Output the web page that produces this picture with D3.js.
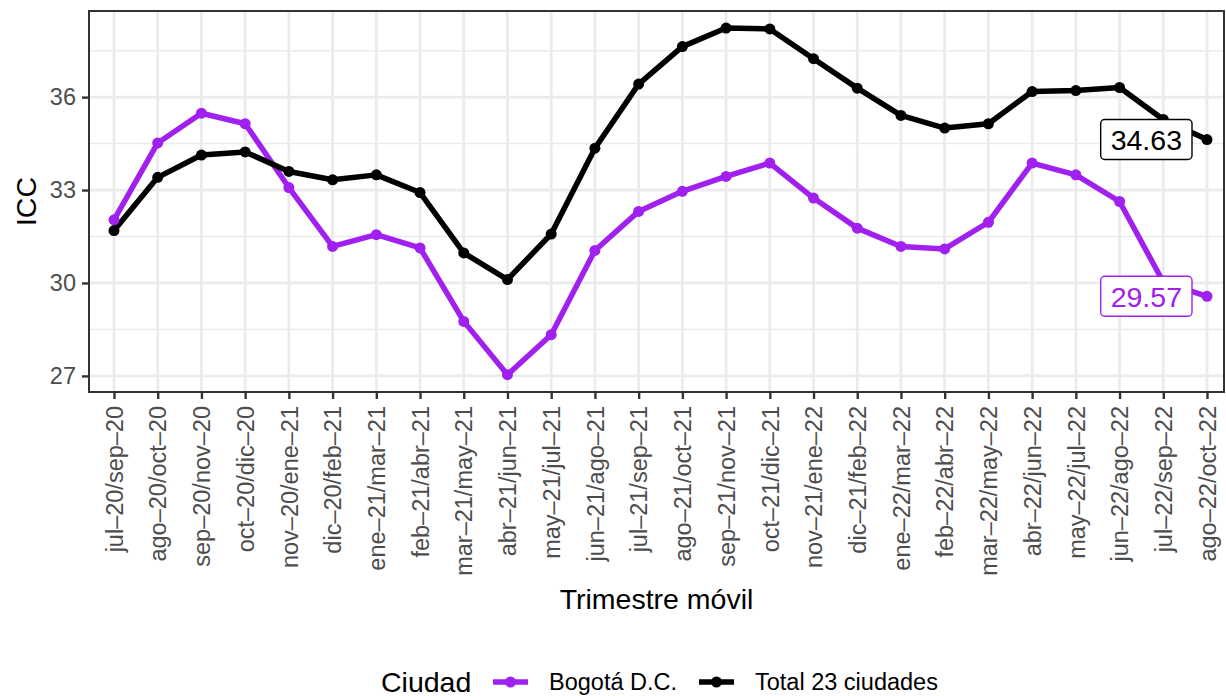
<!DOCTYPE html>
<html>
<head>
<meta charset="utf-8">
<script src="https://cdn.jsdelivr.net/npm/d3@7"></script>
<style>
    body { margin: 0; background: #fff; }
    .chart { width: 1226px; height: 696px; }
    text { font-family: "Liberation Sans", Arial, sans-serif; }
</style>
</head>
<body>
<div class="chart"></div>
<script>

//the moving quarters on the x axis
let trimestres = [
    "jul–20/sep–20", "ago–20/oct–20", "sep–20/nov–20", "oct–20/dic–20", "nov–20/ene–21",
    "dic–20/feb–21", "ene–21/mar–21", "feb–21/abr–21", "mar–21/may–21", "abr–21/jun–21",
    "may–21/jul–21", "jun–21/ago–21", "jul–21/sep–21", "ago–21/oct–21", "sep–21/nov–21",
    "oct–21/dic–21", "nov–21/ene–22", "dic–21/feb–22", "ene–22/mar–22", "feb–22/abr–22",
    "mar–22/may–22", "abr–22/jun–22", "may–22/jul–22", "jun–22/ago–22", "jul–22/sep–22",
    "ago–22/oct–22"
];

let bogota = [
    32.04, 34.52, 35.48, 35.14, 33.08, 31.18, 31.56, 31.13, 28.76, 27.04,
    28.33, 31.05, 32.31, 32.96, 33.44, 33.87, 32.74, 31.77, 31.18, 31.10,
    31.96, 33.87, 33.49, 32.63, 30.03, 29.57
];

let total = [
    31.69, 33.41, 34.13, 34.23, 33.60, 33.33, 33.49, 32.92, 30.97, 30.11,
    31.58, 34.35, 36.42, 37.63, 38.23, 38.20, 37.24, 36.29, 35.41, 35.00,
    35.14, 36.18, 36.21, 36.31, 35.28, 34.63
];

let ciudades = ["Bogotá D.C.", "Total 23 ciudades"];
let colores = ["#A020F0", "#000000"];
let yTicks = [27, 30, 33, 36];
let yMinor = [28.5, 31.5, 34.5, 37.5];

let chart = {};

init();

function init() {
    chart.series = [
        { name: ciudades[0], color: colores[0], values: bogota },
        { name: ciudades[1], color: colores[1], values: total }
    ];
    setDimensions();
    setScales();
    appendElements();
}

function setDimensions() {
    chart.margin = { top: 11, right: 2, bottom: 304, left: 89 };
    chart.width = 1226 - chart.margin.left - chart.margin.right;
    chart.height = 696 - chart.margin.top - chart.margin.bottom;
}

function setScales() {
    chart.xScale = d3.scalePoint()
        .domain(trimestres)
        .range([25, chart.width - 17]);

    chart.yScale = d3.scaleLinear()
        .domain([26.48, 38.78])
        .range([chart.height, 0]);
}

function appendElements() {
    let x = chart.xScale, y = chart.yScale;

    chart.svg = d3.select(".chart").append("svg")
        .attr("width", 1226)
        .attr("height", 696);

    chart.plot = chart.svg.append("g")
        .attr("transform", `translate(${chart.margin.left},${chart.margin.top})`);

    //grid: minor first, then major
    chart.plot.append("g").selectAll("line").data(yMinor).join("line")
        .attr("x1", 0).attr("x2", chart.width)
        .attr("y1", d => y(d)).attr("y2", d => y(d))
        .attr("stroke", "#EBEBEB").attr("stroke-width", 1.5);

    chart.plot.append("g").selectAll("line").data(yTicks).join("line")
        .attr("x1", 0).attr("x2", chart.width)
        .attr("y1", d => y(d)).attr("y2", d => y(d))
        .attr("stroke", "#EBEBEB").attr("stroke-width", 2.8);

    chart.plot.append("g").selectAll("line").data(trimestres).join("line")
        .attr("x1", d => x(d)).attr("x2", d => x(d))
        .attr("y1", 0).attr("y2", chart.height)
        .attr("stroke", "#EBEBEB").attr("stroke-width", 2.8);

    //axes
    chart.xAxis = chart.plot.append("g")
        .attr("transform", `translate(0,${chart.height})`)
        .call(d3.axisBottom(x).tickSize(7).tickPadding(5));

    chart.xAxis.selectAll("text")
        .attr("transform", "rotate(-90)")
        .attr("x", -14)
        .attr("y", 0)
        .attr("dy", "0.35em")
        .style("text-anchor", "end");

    chart.yAxis = chart.plot.append("g")
        .call(d3.axisLeft(y).tickValues(yTicks).tickSize(7).tickPadding(6));

    chart.plot.selectAll(".domain").remove();
    chart.plot.selectAll(".tick line").attr("stroke", "#333333").attr("stroke-width", 2.4);
    chart.plot.selectAll(".tick text")
        .attr("fill", "#4D4D4D")
        .style("font-size", "23.5px");

    //panel border
    chart.plot.append("rect")
        .attr("width", chart.width).attr("height", chart.height)
        .attr("fill", "none").attr("stroke", "#333333").attr("stroke-width", 2);

    //lines then points
    let line = d3.line()
        .x((d, i) => x(trimestres[i]))
        .y(d => y(d));

    chart.plot.append("g").selectAll("path").data(chart.series).join("path")
        .attr("d", d => line(d.values))
        .attr("fill", "none")
        .attr("stroke", d => d.color)
        .attr("stroke-width", 5.5)
        .attr("stroke-linejoin", "round");

    chart.series.forEach(s => {
        chart.plot.append("g").selectAll("circle").data(s.values).join("circle")
            .attr("cx", (d, i) => x(trimestres[i]))
            .attr("cy", d => y(d))
            .attr("r", 5.5)
            .attr("fill", s.color);
    });

    //labels on the last value
    let last = trimestres.length - 1;
    chart.series.forEach(s => {
        let g = chart.plot.append("g");
        let v = s.values[last];
        let t = g.append("text")
            .attr("x", x(trimestres[last]) - 25)
            .attr("y", y(v))
            .attr("dy", "0.36em")
            .attr("text-anchor", "end")
            .attr("fill", s.color)
            .style("font-size", "28.5px")
            .text(v.toFixed(2));
        let b = t.node().getBBox();
        g.insert("rect", "text")
            .attr("x", b.x - 10).attr("y", y(v) - 20)
            .attr("width", b.width + 20).attr("height", 40)
            .attr("rx", 4)
            .attr("fill", "#fff")
            .attr("stroke", s.color)
            .attr("stroke-width", 1.4);
    });

    //axis titles
    chart.svg.append("text")
        .attr("x", chart.margin.left + chart.width / 2)
        .attr("y", 609)
        .attr("text-anchor", "middle")
        .style("font-size", "28.5px")
        .text("Trimestre móvil");

    chart.svg.append("text")
        .attr("transform", `translate(36,${chart.margin.top + chart.height / 2}) rotate(-90)`)
        .attr("text-anchor", "middle")
        .style("font-size", "28.5px")
        .text("ICC");

    //legend
    let legend = chart.svg.append("g").attr("transform", "translate(381,682)");

    legend.append("text")
        .attr("dy", "0.36em")
        .style("font-size", "28.5px")
        .text("Ciudad");

    let keyX = [112, 318];
    chart.series.forEach((s, i) => {
        let k = legend.append("g").attr("transform", `translate(${keyX[i]},0)`);
        k.append("line")
            .attr("x1", 0).attr("x2", 35)
            .attr("stroke", s.color).attr("stroke-width", 5.5);
        k.append("circle").attr("cx", 17.5).attr("r", 5.5).attr("fill", s.color);
        k.append("text")
            .attr("x", 56)
            .attr("dy", "0.36em")
            .style("font-size", "23.5px")
            .text(s.name);
    });
}

</script>
</body>
</html>
